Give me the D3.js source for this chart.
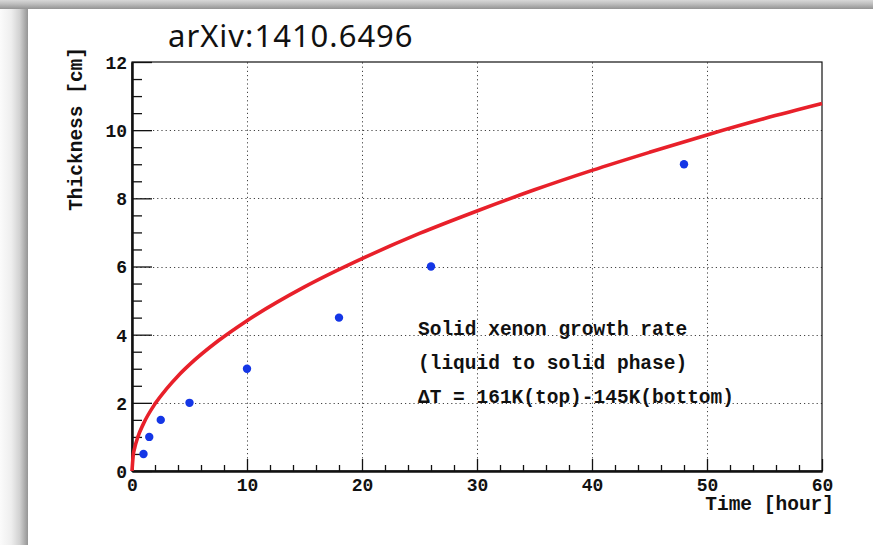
<!DOCTYPE html>
<html>
<head>
<meta charset="utf-8">
<script src="https://cdn.jsdelivr.net/npm/d3@7/dist/d3.min.js"></script>
<style>
  html, body { margin: 0; padding: 0; background: #ffffff; }
  svg { display: block; }
</style>
</head>
<body>
<svg id="chart" width="879" height="545"></svg>
<script>
// Measured solid xenon thickness vs. time
const timeHours   = [1, 1.5, 2.5, 5, 10, 18, 26, 48];
const thicknessCm = [0.5, 1, 1.5, 2, 3, 4.5, 6, 9];

// Growth-rate curve (red), sampled along its length
const curveTime      = [0, 0.1, 0.25, 0.5, 1, 2, 3, 4, 5, 7.5, 10, 15, 20, 25, 30, 35, 40, 45, 50, 55, 60];
const curveThickness = [0, 0.44, 0.70, 0.99, 1.39, 1.97, 2.41, 2.79, 3.12, 3.82, 4.41, 5.40, 6.23, 6.97, 7.63, 8.25, 8.82, 9.35, 9.86, 10.34, 10.78];

// Axis ticks
const xMajorTicks = [0, 10, 20, 30, 40, 50, 60];
const xMinorTicks = d3.range(0, 60.001, 2).filter(v => v % 10 !== 0);
const yMajorTicks = [0, 2, 4, 6, 8, 10, 12];
const yMinorTicks = d3.range(0, 12.001, 0.5).filter(v => v % 2 !== 0);

const annotationLines = [
  "Solid xenon growth rate",
  "(liquid to solid phase)",
  "\u0394T = 161K(top)-145K(bottom)"
];

const W = 879, H = 545;
const plot = { left: 132, right: 822, top: 62, bottom: 471 };
const monoFont = "'Liberation Mono', 'Courier New', monospace";

const svg = d3.select("#chart");

// Page frame shading
const defs = svg.append("defs");
const gLeft = defs.append("linearGradient").attr("id", "shadeLeft")
  .attr("x1", 0).attr("x2", 1).attr("y1", 0).attr("y2", 0);
gLeft.append("stop").attr("offset", "0%").attr("stop-color", "#fbfbfb");
gLeft.append("stop").attr("offset", "40%").attr("stop-color", "#eeeeee");
gLeft.append("stop").attr("offset", "70%").attr("stop-color", "#d2d2d2");
gLeft.append("stop").attr("offset", "100%").attr("stop-color", "#959595");
const gTop = defs.append("linearGradient").attr("id", "shadeTop")
  .attr("x1", 0).attr("x2", 0).attr("y1", 0).attr("y2", 1);
gTop.append("stop").attr("offset", "0%").attr("stop-color", "#d8d8d8");
gTop.append("stop").attr("offset", "45%").attr("stop-color", "#bdbdbd");
gTop.append("stop").attr("offset", "100%").attr("stop-color", "#939393");

svg.append("rect").attr("x", 0).attr("y", 0).attr("width", W).attr("height", H).attr("fill", "#ffffff");
svg.append("rect").attr("x", 0).attr("y", 0).attr("width", 873).attr("height", 9).attr("fill", "url(#shadeTop)");
svg.append("rect").attr("x", 0).attr("y", 9).attr("width", 28).attr("height", H - 9).attr("fill", "url(#shadeLeft)");

// Scales
const x = d3.scaleLinear().domain([0, 60]).range([plot.left, plot.right]);
const y = d3.scaleLinear().domain([0, 12]).range([plot.bottom, plot.top]);

// Dotted grid at major ticks
const grid = svg.append("g").attr("stroke", "#444").attr("stroke-width", 1)
  .attr("stroke-dasharray", "1.2,3");
grid.selectAll("line.gx").data(xMajorTicks.slice(1, -1)).join("line")
  .attr("class", "gx")
  .attr("x1", d => Math.round(x(d)) + 0.5).attr("x2", d => Math.round(x(d)) + 0.5)
  .attr("y1", y(0)).attr("y2", y(12));
grid.selectAll("line.gy").data(yMajorTicks.slice(1, -1)).join("line")
  .attr("class", "gy")
  .attr("y1", d => Math.round(y(d)) + 0.5).attr("y2", d => Math.round(y(d)) + 0.5)
  .attr("x1", x(0)).attr("x2", x(60));

// Frame
svg.append("rect")
  .attr("x", plot.left).attr("y", plot.top)
  .attr("width", plot.right - plot.left).attr("height", plot.bottom - plot.top)
  .attr("fill", "none").attr("stroke", "#111").attr("stroke-width", 1.2);

// X axis: major + minor ticks pointing inward
const xAxisMajor = d3.axisBottom(x).tickValues(xMajorTicks).tickFormat(d3.format("d"))
  .tickSizeInner(-12).tickSizeOuter(0).tickPadding(7);
const xAxisMinor = d3.axisBottom(x).tickValues(xMinorTicks).tickFormat("")
  .tickSizeInner(-6).tickSizeOuter(0);
const gxMinor = svg.append("g").attr("transform", `translate(0,${plot.bottom})`).call(xAxisMinor);
const gxMajor = svg.append("g").attr("transform", `translate(0,${plot.bottom})`).call(xAxisMajor);

// Y axis
const yAxisMajor = d3.axisLeft(y).tickValues(yMajorTicks).tickFormat(d3.format("d"))
  .tickSizeInner(-20).tickSizeOuter(0).tickPadding(5);
const yAxisMinor = d3.axisLeft(y).tickValues(yMinorTicks).tickFormat("")
  .tickSizeInner(-10).tickSizeOuter(0);
const gyMinor = svg.append("g").attr("transform", `translate(${plot.left},0)`).call(yAxisMinor);
const gyMajor = svg.append("g").attr("transform", `translate(${plot.left},0)`).call(yAxisMajor);

[gxMinor, gxMajor, gyMinor, gyMajor].forEach(g => {
  g.select(".domain").attr("stroke", "#111").attr("stroke-width", 2);
  g.selectAll(".tick line").attr("stroke", "#111").attr("stroke-width", 1.3);
  g.selectAll(".tick text")
    .attr("fill", "#111")
    .style("font-family", monoFont)
    .style("font-weight", "bold")
    .style("font-size", "18px");
});
gyMajor.selectAll(".tick text").attr("dy", "0.36em");

// Axis titles
svg.append("text")
  .attr("transform", "translate(82,47) rotate(-90)")
  .attr("text-anchor", "end")
  .style("font-family", monoFont).style("font-weight", "bold").style("font-size", "19.5px")
  .attr("fill", "#111")
  .text("Thickness [cm]");
svg.append("text")
  .attr("x", 834).attr("y", 510)
  .attr("text-anchor", "end")
  .style("font-family", monoFont).style("font-weight", "bold").style("font-size", "19.5px")
  .attr("fill", "#111")
  .text("Time [hour]");

// Growth curve
const curvePts = curveTime.map((t, i) => [t, curveThickness[i]]);
const line = d3.line().x(d => x(d[0])).y(d => y(d[1])).curve(d3.curveMonotoneX);
svg.append("path")
  .datum(curvePts)
  .attr("d", line)
  .attr("fill", "none")
  .attr("stroke", "#e8202a")
  .attr("stroke-width", 3.6)
  .attr("stroke-linecap", "butt");

// Measured points
const pts = timeHours.map((t, i) => ({ t, v: thicknessCm[i] }));
svg.selectAll("circle.pt").data(pts).join("circle")
  .attr("class", "pt")
  .attr("cx", d => x(d.t)).attr("cy", d => y(d.v))
  .attr("r", 4.2)
  .attr("fill", "#1436e6");

// Annotation
svg.append("g").selectAll("text").data(annotationLines).join("text")
  .attr("x", 418)
  .attr("y", (d, i) => 335 + i * 34)
  .style("font-family", monoFont).style("font-weight", "bold").style("font-size", "19.5px")
  .attr("fill", "#111")
  .text(d => d);

// Header
svg.append("text")
  .attr("x", 168).attr("y", 47)
  .style("font-family", "'Noto Sans', 'Open Sans', sans-serif")
  .style("font-size", "31px")
  .style("letter-spacing", "1px")
  .attr("fill", "#111")
  .text("arXiv:1410.6496");
</script>
</body>
</html>
